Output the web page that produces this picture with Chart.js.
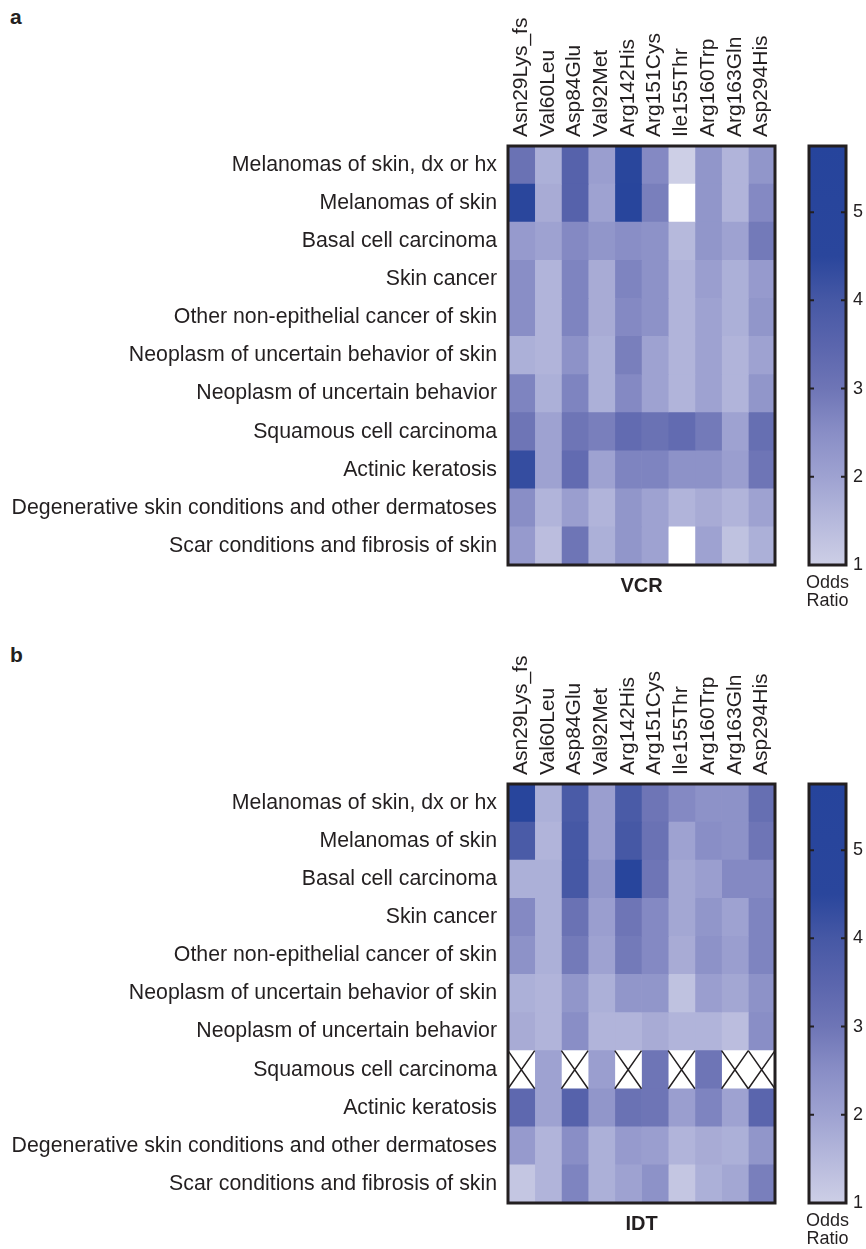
<!DOCTYPE html>
<html>
<head>
<meta charset="utf-8">
<script src="https://cdn.jsdelivr.net/npm/chart.js@4"></script>
<style>
  body { margin: 0; background: #fff; width: 866px; height: 1249px; position: relative; overflow: hidden;
         font-family: "Liberation Sans", Arial, sans-serif; }
  .panel { position: absolute; left: 10px; font-weight: bold; font-size: 21px; color: #231f20; }
  canvas { position: absolute; }
</style>
</head>
<body>
<div class="panel" style="top:5px">a</div>
<div class="panel" style="top:643px">b</div>
<canvas id="heatA" width="790" height="611" style="left:0;top:0"></canvas>
<canvas id="barA" width="76" height="620" style="left:790px;top:0"></canvas>
<canvas id="heatB" width="790" height="611" style="left:0;top:638px"></canvas>
<canvas id="barB" width="76" height="620" style="left:790px;top:638px"></canvas>
<script>
const rowLabels = [
  'Melanomas of skin, dx or hx',
  'Melanomas of skin',
  'Basal cell carcinoma',
  'Skin cancer',
  'Other non-epithelial cancer of skin',
  'Neoplasm of uncertain behavior of skin',
  'Neoplasm of uncertain behavior',
  'Squamous cell carcinoma',
  'Actinic keratosis',
  'Degenerative skin conditions and other dermatoses',
  'Scar conditions and fibrosis of skin'
];
const colLabels = ['Asn29Lys_fs', 'Val60Leu', 'Asp84Glu', 'Val92Met', 'Arg142His',
                   'Arg151Cys', 'Ile155Thr', 'Arg160Trp', 'Arg163Gln', 'Asp294His'];

// odds ratios, one row per phenotype, one column per variant (null = no result)
const vcrOdds = [
  [3.1, 1.7, 3.6, 2.1, 4.8, 2.6, 1.0, 2.3, 1.6, 2.3],
  [4.6, 1.8, 3.6, 2.0, 5.2, 2.8, null, 2.3, 1.6, 2.6],
  [2.2, 2.0, 2.6, 2.3, 2.5, 2.4, 1.5, 2.3, 2.0, 2.9],
  [2.5, 1.6, 2.7, 1.8, 2.7, 2.4, 1.6, 2.1, 1.7, 2.2],
  [2.5, 1.6, 2.7, 1.8, 2.6, 2.4, 1.6, 2.0, 1.7, 2.3],
  [1.7, 1.6, 2.4, 1.7, 2.8, 2.0, 1.6, 2.0, 1.6, 2.0],
  [2.7, 1.7, 2.7, 1.7, 2.6, 2.0, 1.6, 2.0, 1.6, 2.3],
  [3.0, 2.0, 3.0, 2.8, 3.3, 3.1, 3.3, 2.9, 2.0, 3.2],
  [4.3, 2.0, 3.3, 2.0, 2.7, 2.7, 2.4, 2.4, 2.1, 3.0],
  [2.5, 1.6, 2.1, 1.6, 2.3, 2.0, 1.6, 1.8, 1.6, 2.0],
  [2.2, 1.4, 3.0, 1.7, 2.3, 2.0, null, 2.0, 1.3, 1.7]
];
const idtOdds = [
  [5.2, 1.7, 3.9, 2.1, 3.9, 3.0, 2.6, 2.4, 2.4, 3.2],
  [3.9, 1.6, 4.0, 2.1, 4.0, 3.1, 2.0, 2.5, 2.4, 3.0],
  [1.7, 1.7, 4.0, 2.3, 5.1, 3.0, 1.9, 2.1, 2.6, 2.6],
  [2.6, 1.7, 3.1, 2.1, 3.0, 2.6, 1.9, 2.3, 2.0, 2.7],
  [2.4, 1.7, 2.9, 2.0, 2.9, 2.6, 1.8, 2.4, 2.1, 2.7],
  [1.7, 1.6, 2.3, 1.7, 2.3, 2.3, 1.3, 2.1, 1.9, 2.4],
  [1.8, 1.6, 2.5, 1.6, 1.6, 1.8, 1.6, 1.6, 1.4, 2.5],
  [null, 2.0, null, 2.1, null, 3.0, null, 3.0, null, null],
  [3.4, 2.0, 3.6, 2.3, 3.1, 3.0, 2.1, 2.7, 2.0, 3.5],
  [2.2, 1.6, 2.5, 1.7, 2.2, 2.1, 1.6, 1.8, 1.7, 2.3],
  [1.2, 1.6, 2.7, 1.7, 2.0, 2.4, 1.2, 1.7, 1.9, 2.8]
];
const cbarLabel = ['Odds', 'Ratio'];
const cbarMin = 1;
const cbarMax = 5.75;

const ink = '#231f20';
const cmapStops = [1, 1.5, 2, 2.5, 3, 3.5, 4, 4.5, 5.75];
const cmapColors = [
  [205, 207, 230], [182, 185, 220], [158, 162, 209], [137, 142, 198], [110, 117, 182],
  [90, 101, 173], [70, 88, 165], [42, 70, 156], [38, 68, 156]
];
const rgb = c => `rgb(${c.map(Math.round).join(',')})`;

function oddsColor(v) {
  if (v == null) return '#ffffff';
  if (v <= cmapStops[0]) return rgb(cmapColors[0]);
  for (let i = 1; i < cmapStops.length; i++) {
    if (v <= cmapStops[i]) {
      const t = (v - cmapStops[i - 1]) / (cmapStops[i] - cmapStops[i - 1]);
      return rgb(cmapColors[i].map((c, k) => cmapColors[i - 1][k] + (c - cmapColors[i - 1][k]) * t));
    }
  }
  return rgb(cmapColors[cmapColors.length - 1]);
}

// dark box round the plot area
const framePlugin = {
  id: 'frame',
  afterDatasetsDraw(chart) {
    const { ctx, chartArea: a } = chart;
    ctx.save();
    ctx.strokeStyle = ink;
    ctx.lineWidth = 3;
    ctx.strokeRect(a.left, a.top, a.right - a.left, a.bottom - a.top);
    ctx.restore();
  }
};

// X through cells that have no result
const crossPlugin = {
  id: 'cross',
  afterDatasetsDraw(chart, args, opts) {
    if (!opts.enabled) return;
    const ctx = chart.ctx;
    ctx.save();
    ctx.strokeStyle = ink;
    ctx.lineWidth = 1.5;
    chart.data.datasets.forEach((ds, i) => {
      chart.getDatasetMeta(i).data.forEach((el, j) => {
        if (ds.odds[j] != null) return;
        const { x, y, base, height } = el.getProps(['x', 'y', 'base', 'height'], true);
        const top = y - height / 2, bottom = y + height / 2;
        ctx.beginPath();
        ctx.moveTo(base, top); ctx.lineTo(x, bottom);
        ctx.moveTo(base, bottom); ctx.lineTo(x, top);
        ctx.stroke();
      });
    });
    ctx.restore();
  }
};

// short inward ticks on both sides of the colour bar
const tickMarks = {
  id: 'tickMarks',
  afterDatasetsDraw(chart) {
    const { ctx, chartArea: a, scales } = chart;
    ctx.save();
    ctx.strokeStyle = ink;
    ctx.lineWidth = 2;
    scales.y.ticks.forEach(t => {
      if (t.value <= cbarMin || t.value >= cbarMax) return;
      const py = scales.y.getPixelForValue(t.value);
      ctx.beginPath();
      ctx.moveTo(a.left, py); ctx.lineTo(a.left + 5, py);
      ctx.moveTo(a.right - 5, py); ctx.lineTo(a.right, py);
      ctx.stroke();
    });
    ctx.restore();
  }
};

function makeHeatmap(id, odds, title, crossMissing) {
  const datasets = colLabels.map((name, c) => ({
    label: name,
    xAxisID: 'x',
    yAxisID: 'y',
    data: rowLabels.map(() => 1),
    odds: rowLabels.map((_, r) => odds[r][c]),
    backgroundColor: rowLabels.map((_, r) => oddsColor(odds[r][c])),
    borderWidth: 0,
    barPercentage: 1,
    categoryPercentage: 1
  }));
  return new Chart(document.getElementById(id), {
    type: 'bar',
    data: { labels: rowLabels, datasets },
    options: {
      indexAxis: 'y',
      responsive: false,
      animation: false,
      layout: { padding: { right: 15 } },
      plugins: {
        legend: { display: false },
        tooltip: { enabled: false },
        cross: { enabled: crossMissing }
      },
      scales: {
        x: {
          stacked: true, min: 0, max: colLabels.length, position: 'bottom',
          grid: { display: false, drawTicks: false }, border: { display: false },
          ticks: { display: false },
          title: { display: true, text: title, color: ink, font: { size: 20, weight: 'bold' }, padding: { top: 0, bottom: 13 } },
          afterFit: s => { s.height = 46; }
        },
        y: {
          stacked: true,
          grid: { display: false, drawTicks: false }, border: { display: false },
          ticks: { color: ink, font: { size: 21.3 }, padding: 11, autoSkip: false },
          afterFit: s => { s.width = 508; }
        },
        x2: {
          axis: 'x', type: 'category', position: 'top', labels: colLabels, offset: true,
          grid: { display: false, drawTicks: false }, border: { display: false },
          ticks: { color: ink, font: { size: 21 }, minRotation: 90, maxRotation: 90, padding: 9,
                   labelOffset: 25, autoSkip: false },
          afterFit: s => { s.height = 146; }
        }
      }
    },
    plugins: [crossPlugin, framePlugin]
  });
}

function makeColorbar(id) {
  return new Chart(document.getElementById(id), {
    type: 'bar',
    data: {
      labels: [cbarLabel],
      datasets: [{
        data: [[cbarMin, cbarMax]],
        backgroundColor: c => {
          const chart = c.chart;
          if (!chart.chartArea) return null;
          const y = chart.scales.y;
          const g = chart.ctx.createLinearGradient(0, y.getPixelForValue(cbarMin), 0, y.getPixelForValue(cbarMax));
          cmapStops.forEach((s, i) => g.addColorStop((s - cbarMin) / (cbarMax - cbarMin), rgb(cmapColors[i])));
          return g;
        },
        borderWidth: 0,
        barPercentage: 1,
        categoryPercentage: 1
      }]
    },
    options: {
      responsive: false,
      animation: false,
      layout: { padding: { left: 19, top: 146 } },
      plugins: { legend: { display: false }, tooltip: { enabled: false } },
      scales: {
        x: {
          grid: { display: false, drawTicks: false }, border: { display: false },
          ticks: { color: ink, font: { size: 18, lineHeight: 1 }, padding: 9, maxRotation: 0 },
          afterFit: s => { s.height = 55; s.paddingLeft = 0; s.paddingRight = 0; }
        },
        y: {
          position: 'right', min: cbarMin, max: cbarMax,
          grid: { display: false, drawTicks: false }, border: { display: false },
          ticks: { stepSize: 1, color: ink, font: { size: 18 }, padding: 7 },
          afterBuildTicks: s => { s.ticks = s.ticks.filter(t => Number.isInteger(t.value)); },
          afterFit: s => { s.width = 20; }
        }
      }
    },
    plugins: [tickMarks, framePlugin]
  });
}

makeHeatmap('heatA', vcrOdds, 'VCR', false);
makeColorbar('barA');
makeHeatmap('heatB', idtOdds, 'IDT', true);
makeColorbar('barB');
</script>
</body>
</html>
